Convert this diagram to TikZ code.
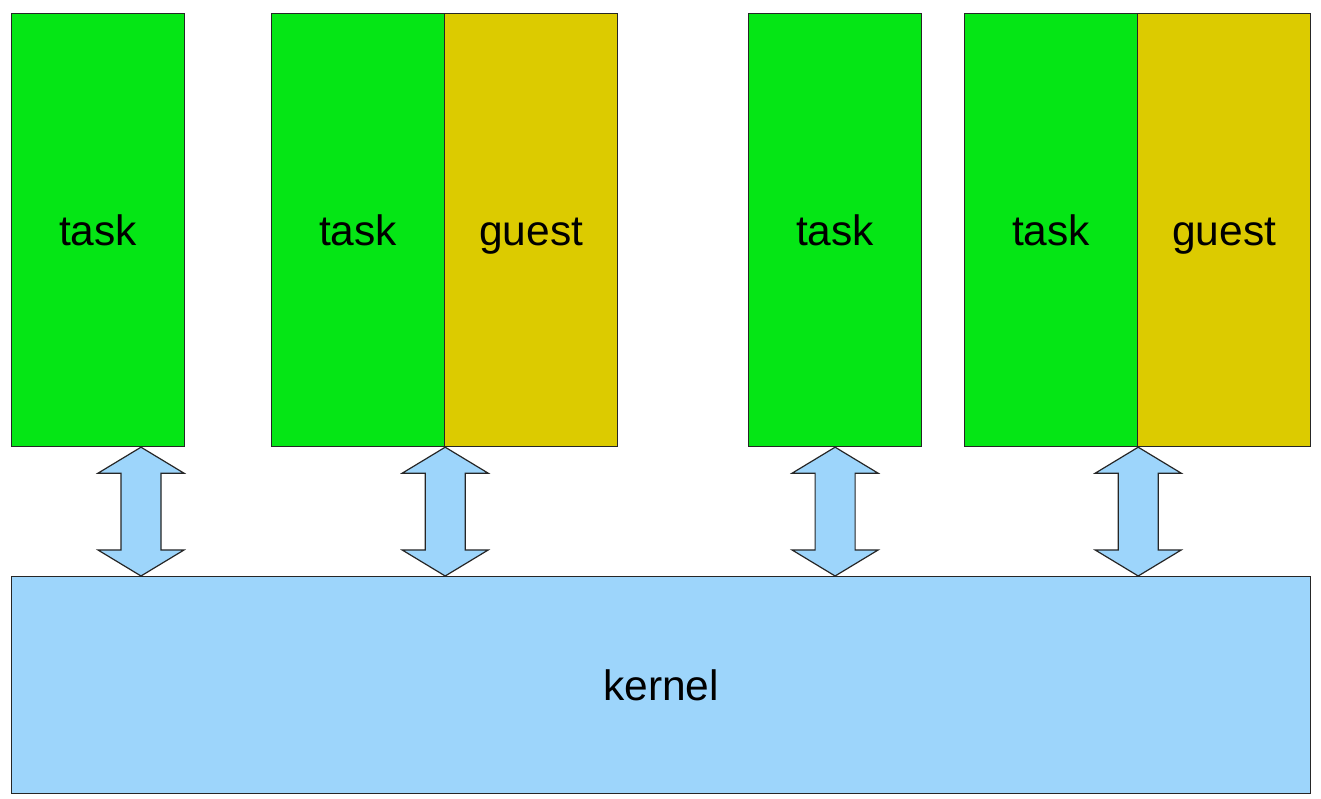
\documentclass[tikz,border=0pt]{standalone}
\usepackage{fontspec}
\setmainfont{Liberation Sans}
\usetikzlibrary{calc}
\definecolor{boxgreen}{HTML}{05E615}
\definecolor{boxyellow}{HTML}{DCCB00}
\definecolor{kblue}{HTML}{9DD5FB}
\tikzset{
  blk/.style={draw=black!85, line width=1.2pt, inner sep=0pt, anchor=north west,
    font=\fontsize{42.5}{50}\selectfont, text height=31pt, text depth=0pt},
  taskbox/.style={blk, fill=boxgreen, minimum width=173pt, minimum height=433pt},
  guestbox/.style={blk, fill=boxyellow, minimum width=173pt, minimum height=433pt},
  kernelbox/.style={blk, fill=kblue, minimum width=1299pt, minimum height=217pt},
  arr/.style={draw=black!85, line width=1.2pt, fill=kblue, line join=miter}
}
\newcommand\blockarrow[2]{%
  \draw[arr] (#1) -- ++(43,-26) -- ++(-23,0) -- ($(#2)+(20,26)$) -- ++(23,0) -- (#2)
    -- ++(-43,26) -- ++(23,0) -- ($(#1)+(-20,-26)$) -- ++(-23,0) -- cycle;}
\begin{document}
\begin{tikzpicture}[x=1pt,y=1pt]
\useasboundingbox (0,0) rectangle (1321,799);
\fill[white] (0,0) rectangle (1321,799);
% boxes (y measured from top: y = 799 - py)
\node[taskbox] (t1) at (11,786) {task};
\node[taskbox] (t2) at (271,786) {task};
\node[guestbox] (g2) at (444,786) {guest};
\node[taskbox] (t3) at (748,786) {task};
\node[taskbox] (t4) at (964,786) {task};
\node[guestbox] (g4) at (1137,786) {guest};
\node[kernelbox] (k) at (11,223) {kernel};
% arrow end points
\coordinate (a1t) at ($(t1.south west)+(130,0)$);
\coordinate (a1b) at (a1t |- k.north);
\coordinate (a2t) at (t2.south east);
\coordinate (a2b) at (a2t |- k.north);
\coordinate (a3t) at (t3.south);
\coordinate (a3b) at (a3t |- k.north);
\coordinate (a4t) at (t4.south east);
\coordinate (a4b) at (a4t |- k.north);
\blockarrow{a1t}{a1b}
\blockarrow{a2t}{a2b}
\blockarrow{a3t}{a3b}
\blockarrow{a4t}{a4b}
\end{tikzpicture}
\end{document}
